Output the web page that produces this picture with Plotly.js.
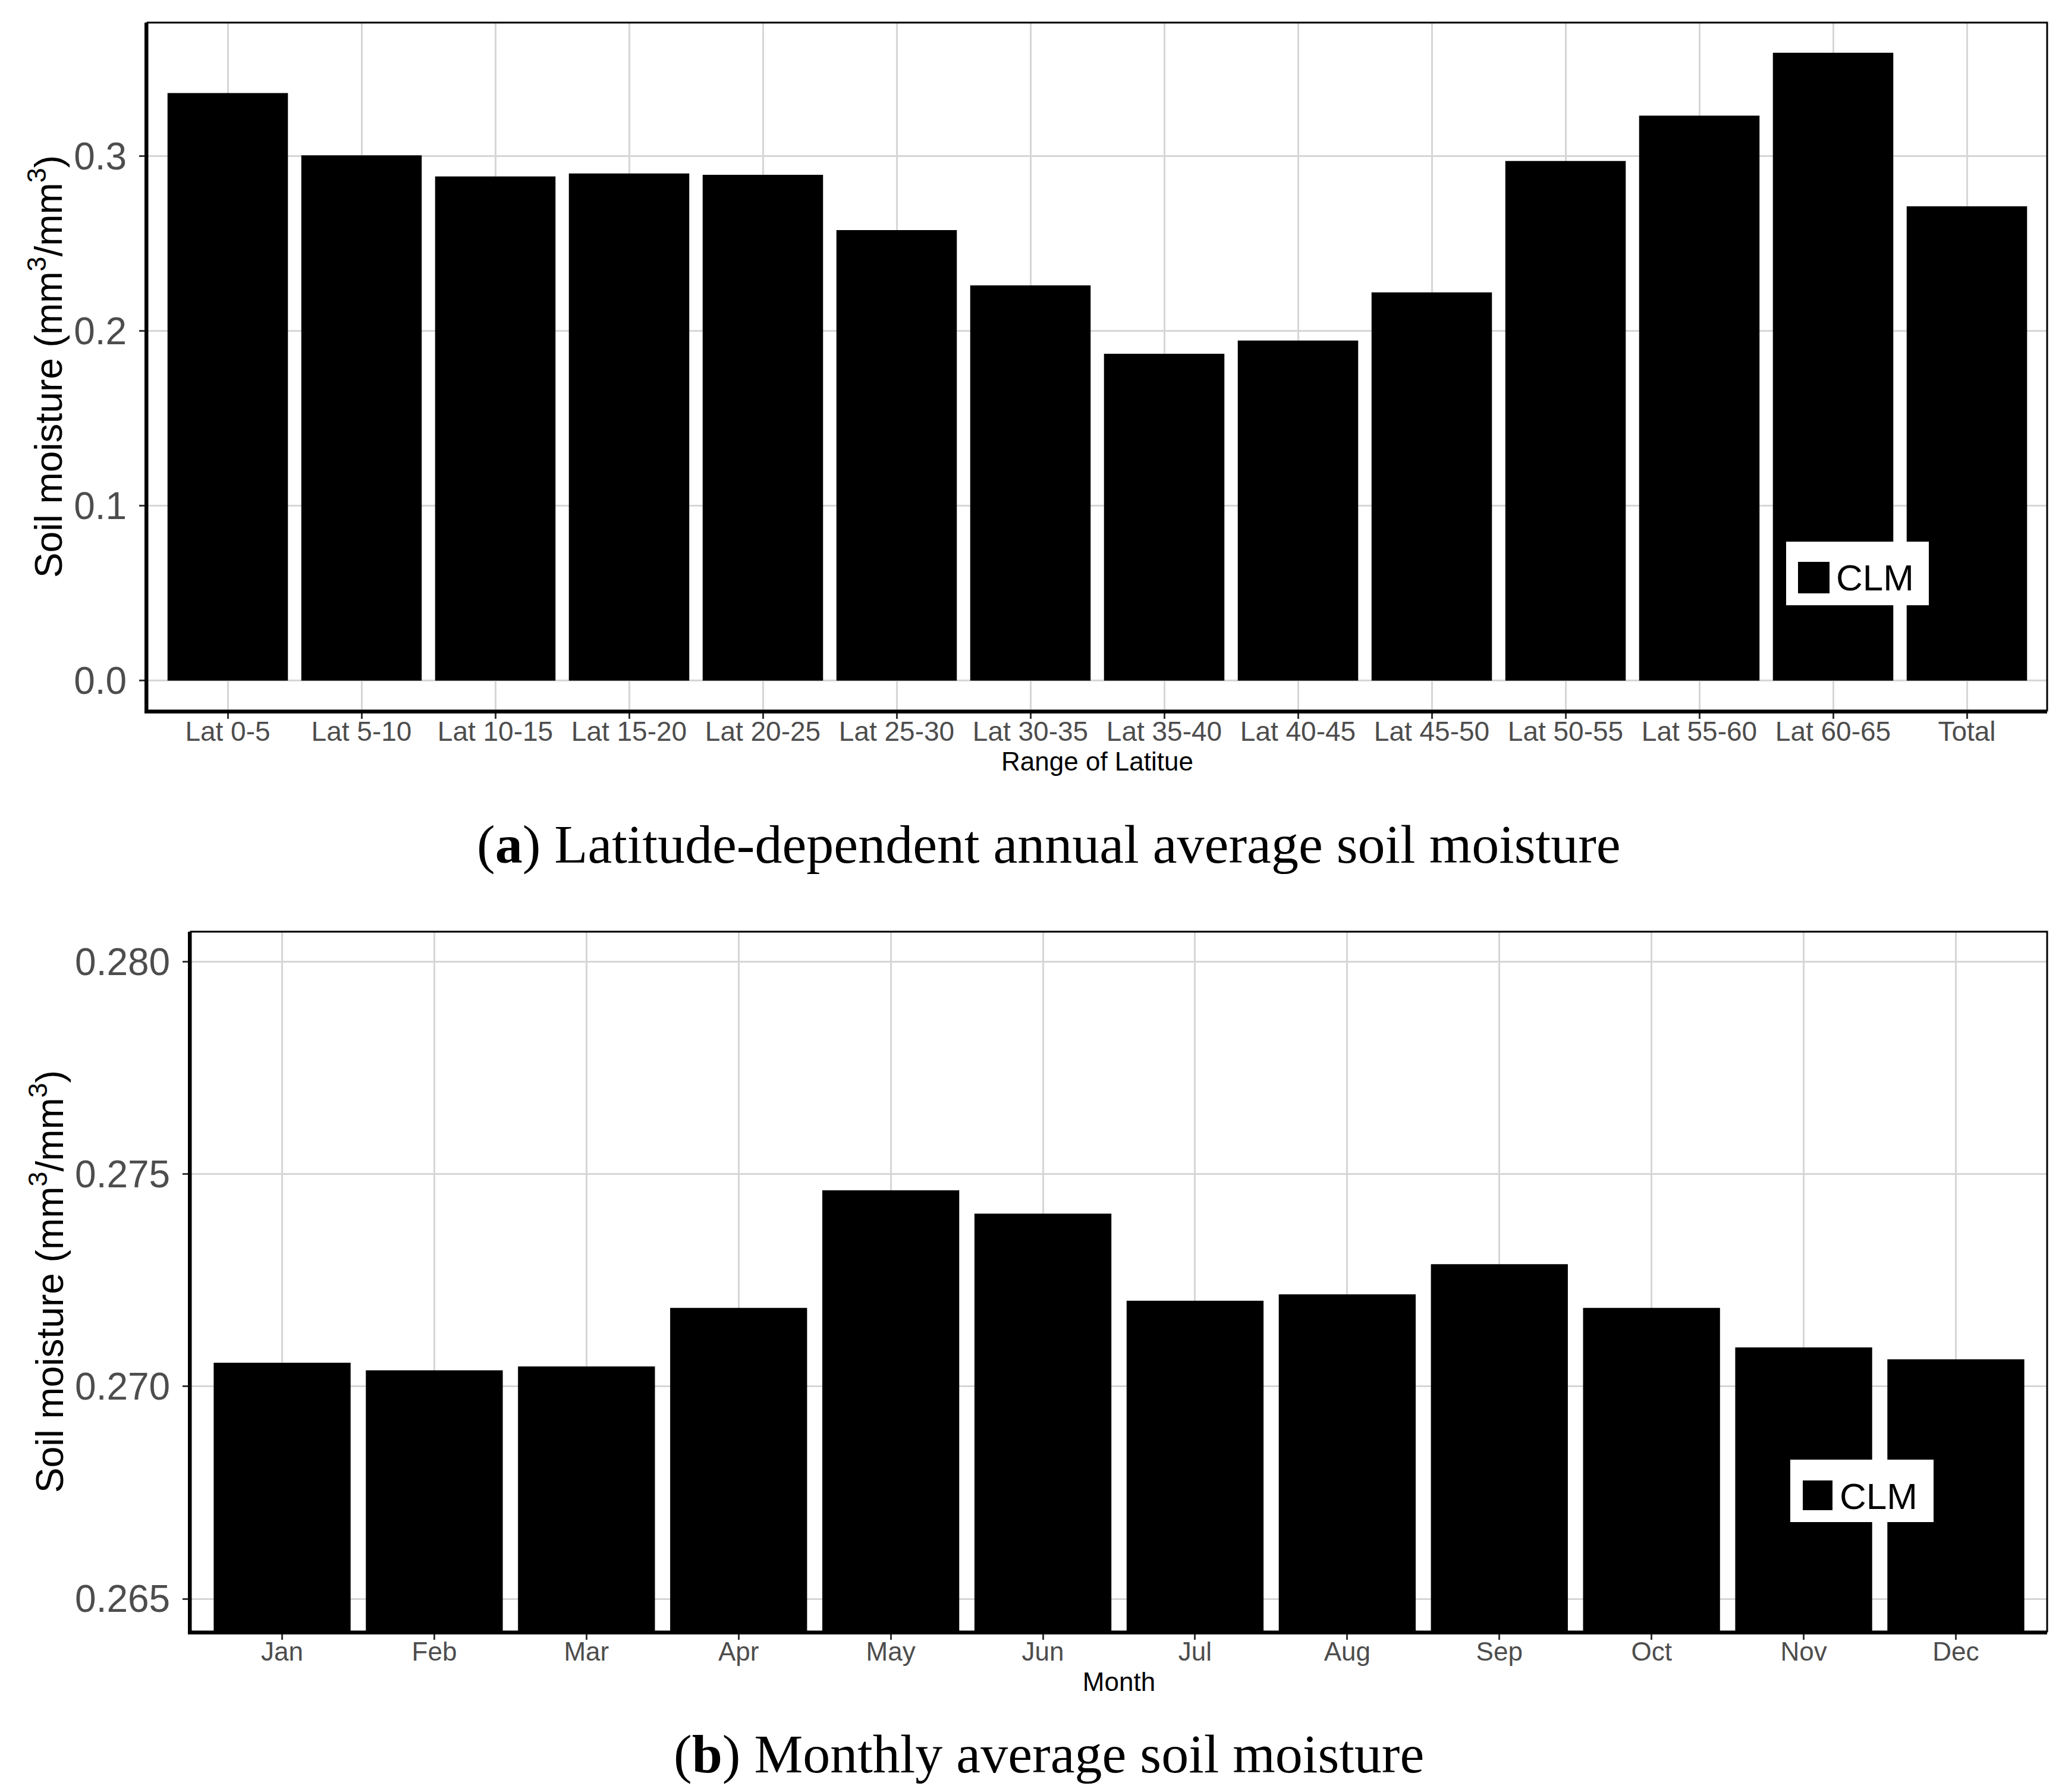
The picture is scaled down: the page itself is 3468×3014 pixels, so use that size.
<!DOCTYPE html>
<html><head><meta charset="utf-8">
<script src="https://cdn.plot.ly/plotly-3.0.1.min.js"></script>
<style>html,body{margin:0;padding:0;background:#fff}</style>
</head><body><div id="chart" style="width:3468px;height:3014px"></div>
<script>
const latCategories = ["Lat 0-5","Lat 5-10","Lat 10-15","Lat 15-20","Lat 20-25","Lat 25-30","Lat 30-35","Lat 35-40","Lat 40-45","Lat 45-50","Lat 50-55","Lat 55-60","Lat 60-65","Total"];
const latValues = [0.3361,0.3005,0.2884,0.2901,0.2893,0.2577,0.2261,0.1870,0.1945,0.2221,0.2972,0.3232,0.3591,0.2713];
const monthCategories = ["Jan","Feb","Mar","Apr","May","Jun","Jul","Aug","Sep","Oct","Nov","Dec"];
const monthValues = [0.27056,0.27038,0.27047,0.27185,0.27462,0.27407,0.27202,0.27217,0.27288,0.27185,0.27092,0.27064];
const latTickVals = [0,0.1,0.2,0.3];
const latTickText = ["0.0","0.1","0.2","0.3"];
const monthTickVals = [0.265,0.270,0.275,0.280];
const monthTickText = ["0.265","0.270","0.275","0.280"];
const seriesName = "CLM";
const captionA = "(<b>a</b>) Latitude-dependent annual average soil moisture";
const captionB = "(<b>b</b>) Monthly average soil moisture";
const yTitle = "Soil moisture (mm<sup>3</sup>/mm<sup>3</sup>)";

const W = 3468, H = 3014;
const px = v => v / W;
const py = v => 1 - v / H;
const SANS = "Liberation Sans, Arial, sans-serif";
const SERIF = "Liberation Serif, Times New Roman, serif";

const traces = [
  {type:"bar", name:seriesName, x:latCategories, y:latValues, width:0.9,
   marker:{color:"#000000", line:{width:0}}, xaxis:"x", yaxis:"y", showlegend:false, hoverinfo:"x+y"},
  {type:"bar", name:seriesName, x:monthCategories, y:monthValues, width:0.9,
   marker:{color:"#000000", line:{width:0}}, xaxis:"x2", yaxis:"y2", showlegend:false, hoverinfo:"x+y"}
];

function xAxis(domain, anchor, n, title, tickSize, standoff){
  return {domain:domain, anchor:anchor, type:"category", range:[-0.6, n-0.4], autorange:false,
    showgrid:true, gridcolor:"#d6d6d6", gridwidth:3, zeroline:false,
    ticks:"outside", ticklen:9, tickwidth:3, tickcolor:"#333333", ticklabelstandoff:-18,
    tickfont:{family:SANS, size:tickSize, color:"#4d4d4d"},
    showline:true, linecolor:"#000000", linewidth:5, automargin:false,
    title:{text:title, font:{family:SANS, size:44, color:"#000000"}, standoff:standoff}};
}
function yAxis(domain, anchor, range, vals, text){
  return {domain:domain, anchor:anchor, range:range, autorange:false,
    tickmode:"array", tickvals:vals, ticktext:text,
    showgrid:true, gridcolor:"#d6d6d6", gridwidth:3, zeroline:false,
    ticks:"outside", ticklen:9, tickwidth:3, tickcolor:"#333333", ticklabelstandoff:8,
    tickfont:{family:SANS, size:64, color:"#4d4d4d"},
    showline:true, linecolor:"#000000", linewidth:5, automargin:false,
    title:{text:yTitle, font:{family:SANS, size:64, color:"#000000"}, standoff:0}};
}

const layout = {
  width:W, height:H, margin:{l:0,r:0,t:0,b:0}, paper_bgcolor:"#ffffff", plot_bgcolor:"#ffffff",
  showlegend:false, bargap:0.1,
  xaxis: xAxis([px(248), px(3443)], "y", latCategories.length, "Range of Latitue", 46, 6),
  yaxis: yAxis([py(1195), py(38)], "x", [-0.0171, 0.3764], latTickVals, latTickText),
  xaxis2: xAxis([px(321), px(3443)], "y2", monthCategories.length, "Month", 44, 14),
  yaxis2: yAxis([py(2744), py(1567)], "x2", [0.26423, 0.28071], monthTickVals, monthTickText),
  shapes:[
    {type:"rect", xref:"paper", yref:"paper", x0:px(248), x1:px(3443), y0:py(1195), y1:py(38), line:{color:"#000",width:3}, fillcolor:"rgba(0,0,0,0)", layer:"above"},
    {type:"rect", xref:"paper", yref:"paper", x0:px(321), x1:px(3443), y0:py(2744), y1:py(1567), line:{color:"#000",width:3}, fillcolor:"rgba(0,0,0,0)", layer:"above"},
    {type:"rect", xref:"paper", yref:"paper", x0:px(3004), x1:px(3244), y0:py(1018), y1:py(911), line:{width:0}, fillcolor:"#ffffff", layer:"above"},
    {type:"rect", xref:"paper", yref:"paper", x0:px(3024), x1:px(3077), y0:py(998), y1:py(945), line:{width:0}, fillcolor:"#000000", layer:"above"},
    {type:"rect", xref:"paper", yref:"paper", x0:px(3011), x1:px(3252), y0:py(2560), y1:py(2455), line:{width:0}, fillcolor:"#ffffff", layer:"above"},
    {type:"rect", xref:"paper", yref:"paper", x0:px(3032), x1:px(3082), y0:py(2540), y1:py(2490), line:{width:0}, fillcolor:"#000000", layer:"above"}
  ],
  annotations:[
    {text:seriesName, xref:"paper", yref:"paper", x:px(3086), y:py(972), xanchor:"left", yanchor:"middle", showarrow:false, font:{family:SANS, size:62, color:"#000"}},
    {text:seriesName, xref:"paper", yref:"paper", x:px(3092), y:py(2516), xanchor:"left", yanchor:"middle", showarrow:false, font:{family:SANS, size:62, color:"#000"}},
    {text:captionA, xref:"paper", yref:"paper", x:px(1764), y:py(1420), xanchor:"center", yanchor:"middle", showarrow:false, font:{family:SERIF, size:92, color:"#000"}},
    {text:captionB, xref:"paper", yref:"paper", x:px(1764), y:py(2950), xanchor:"center", yanchor:"middle", showarrow:false, font:{family:SERIF, size:92, color:"#000"}}
  ]
};

Plotly.newPlot("chart", traces, layout, {staticPlot:true, displayModeBar:false});
</script>
</body></html>
